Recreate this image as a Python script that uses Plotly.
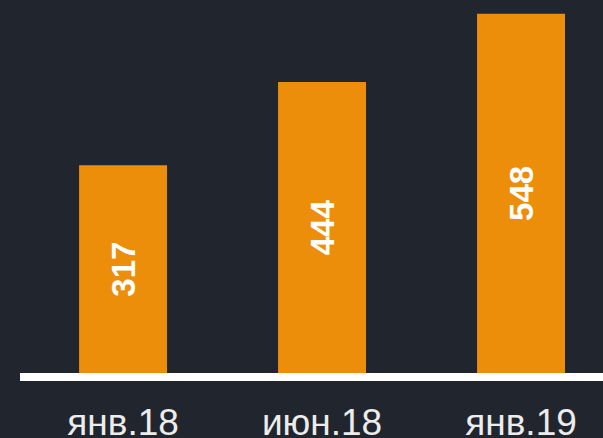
import plotly.graph_objects as go

# Data
periods = ['янв.18', 'июн.18', 'янв.19']
values = [317, 444, 548]

BG = '#21252d'
ORANGE = '#ed8e0a'

fig = go.Figure()

fig.add_trace(go.Bar(
    x=periods,
    y=values,
    marker=dict(color=ORANGE, line=dict(width=0)),
    texttemplate='<b>%{y}</b>',
    textposition='inside',
    insidetextanchor='middle',
    textangle=-90,
    textfont=dict(family='Arial, Liberation Sans', size=33, color='white'),
    constraintext='none',
    hoverinfo='skip',
))

fig.update_layout(
    width=603,
    height=438,
    paper_bgcolor=BG,
    plot_bgcolor=BG,
    margin=dict(l=20, r=0, t=0, b=65),
    bargap=0.558,
    showlegend=False,
    font=dict(family='Arial, Liberation Sans'),
)

fig.update_xaxes(
    type='category',
    range=[-0.518, 2.412],
    automargin=False,
    showline=True,
    linecolor='white',
    linewidth=8,
    showgrid=False,
    zeroline=False,
    ticks='',
    ticklabelstandoff=10,
    tickfont=dict(size=37, color='#ececec'),
)
fig.update_yaxes(
    range=[0, 569],
    visible=False,
    automargin=False,
    showgrid=False,
    zeroline=False,
)

# drop the default page margin so the figure sits at the window corner
fig.write_html('out.html', config={'displayModeBar': False},
               post_script="document.body.style.margin='0';")
